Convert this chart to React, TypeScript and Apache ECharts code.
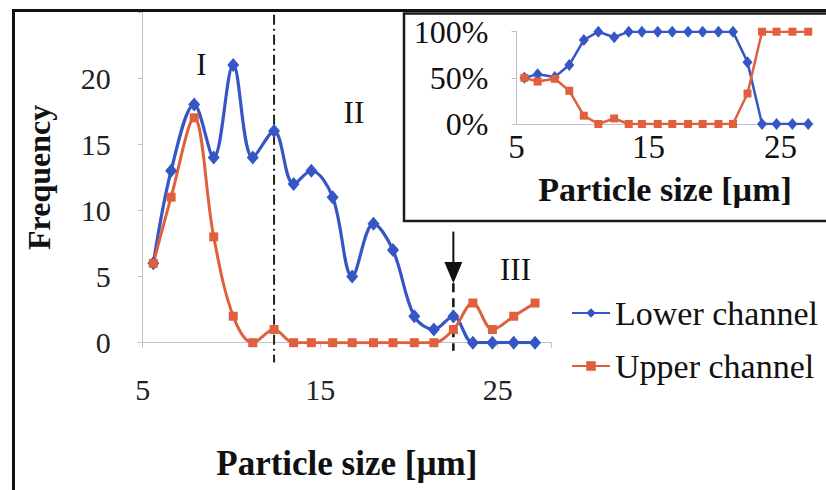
import React, { useEffect, useRef } from "react";
import * as echarts from "echarts";

const sizes = [5.6, 6.6, 7.9, 9.0, 10.1, 11.2, 12.4, 13.5, 14.5, 15.7, 16.8, 18.0, 19.1, 20.3, 21.4, 22.5, 23.6, 24.7, 25.9, 27.1];
const lowerFreq = [6, 13, 18, 14, 21, 14, 16, 12, 13, 11, 5, 9, 7, 2, 1, 2, 0, 0, 0, 0];
const upperFreq = [6, 11, 17, 8, 2, 0, 1, 0, 0, 0, 0, 0, 0, 0, 0, 1, 3, 1, 2, 3];
const lowerPct = [50, 54, 51, 64, 91, 100, 94, 100, 100, 100, 100, 100, 100, 100, 100, 67, 0, 0, 0, 0];
const upperPct = [50, 46, 49, 36, 9, 0, 6, 0, 0, 0, 0, 0, 0, 0, 0, 33, 100, 100, 100, 100];
const seriesNames = ["Lower channel", "Upper channel"];
const regionLabels = [
  { text: "I", x: 8.3, y: 21.0 },
  { text: "II", x: 16.9, y: 17.4 },
  { text: "III", x: 26.0, y: 5.5 },
];
const dashDotX = 12.4;
const arrowX = 22.5;

const FONT = "Liberation Serif";
const BLUE = "#3556c4";
const RED = "#e0603e";
const AXIS = "#b9c1d3";

const pair = (xs: number[], ys: number[]) => xs.map((x, i) => [x, ys[i]]);

export default function App() {
  const ref = useRef<HTMLDivElement>(null);
  useEffect(() => {
    if (!ref.current) return;
    const chart = echarts.init(ref.current, null, { renderer: "svg" });
    const option: any = {
      animation: false,
      backgroundColor: "#ffffff",
      textStyle: { fontFamily: FONT },
      grid: [
        { left: 142.7, top: 12, right: 275, bottom: 147.3 },
        { left: 516.5, top: 31.7, right: 12.5, bottom: 490 - 124 },
      ],
      legend: {
        orient: "vertical",
        left: 566,
        top: 291,
        itemWidth: 38,
        itemHeight: 12,
        itemGap: 19,
        data: seriesNames,
        textStyle: { fontFamily: FONT, fontSize: 34, color: "#111", lineHeight: 34 },
      },
      xAxis: [
        {
          gridIndex: 0,
          type: "value",
          min: 5,
          max: 28,
          interval: 10,
          axisLine: { lineStyle: { color: AXIS, width: 1 } },
          axisTick: { show: true, length: 5, lineStyle: { color: AXIS } },
          splitLine: { show: false },
          axisLabel: {
            margin: 32,
            fontFamily: FONT,
            fontSize: 30,
            color: "#222",
            formatter: (v: number) => ((v - 5) % 10 === 0 ? String(v) : ""),
          },
          name: "Particle size [µm]",
          nameLocation: "middle",
          nameGap: 103,
          nameTextStyle: { fontFamily: FONT, fontSize: 35, fontWeight: "bold", color: "#111" },
        },
        {
          gridIndex: 1,
          type: "value",
          min: 5,
          max: 27.5,
          interval: 10,
          axisLine: { lineStyle: { color: AXIS, width: 1 } },
          axisTick: { show: false },
          splitLine: { show: false },
          axisLabel: {
            margin: 6,
            fontFamily: FONT,
            fontSize: 33,
            color: "#111",
            formatter: (v: number) => ((v - 5) % 10 === 0 ? String(v) : ""),
          },
          name: "Particle size [µm]",
          nameLocation: "middle",
          nameGap: 48,
          nameTextStyle: { fontFamily: FONT, fontSize: 34, fontWeight: "bold", color: "#111" },
        },
      ],
      yAxis: [
        {
          gridIndex: 0,
          type: "value",
          min: 0,
          max: 25,
          interval: 5,
          axisLine: { show: true, lineStyle: { color: AXIS, width: 1 } },
          axisTick: { show: true, length: 5, lineStyle: { color: AXIS } },
          splitLine: { show: false },
          axisLabel: {
            margin: 32,
            fontFamily: FONT,
            fontSize: 30,
            color: "#222",
            formatter: (v: number) => (v <= 20 ? String(v) : ""),
          },
          name: "Frequency",
          nameLocation: "middle",
          nameGap: 88,
          nameRotate: 90,
          nameTextStyle: { fontFamily: FONT, fontSize: 32, fontWeight: "bold", color: "#111" },
        },
        {
          gridIndex: 1,
          type: "value",
          min: 0,
          max: 100,
          interval: 50,
          axisLine: { show: true, lineStyle: { color: AXIS, width: 1 } },
          axisTick: { show: true, length: 5, lineStyle: { color: AXIS } },
          splitLine: { show: false },
          axisLabel: {
            margin: 28,
            fontFamily: FONT,
            fontSize: 32,
            color: "#111",
            formatter: "{value}%",
          },
        },
      ],
      series: [
        {
          name: seriesNames[0],
          type: "line",
          xAxisIndex: 0,
          yAxisIndex: 0,
          data: pair(sizes, lowerFreq),
          smooth: 0.35,
          symbol: "diamond",
          symbolSize: [12, 14],
          itemStyle: { color: BLUE },
          lineStyle: { color: BLUE, width: 3.2 },
        },
        {
          name: seriesNames[1],
          type: "line",
          xAxisIndex: 0,
          yAxisIndex: 0,
          data: pair(sizes, upperFreq),
          smooth: 0.35,
          symbol: "rect",
          symbolSize: 9,
          itemStyle: { color: RED },
          lineStyle: { color: RED, width: 3 },
        },
        {
          name: seriesNames[0],
          type: "line",
          xAxisIndex: 1,
          yAxisIndex: 1,
          data: pair(sizes, lowerPct),
          symbol: "diamond",
          symbolSize: [10, 12],
          itemStyle: { color: BLUE },
          lineStyle: { color: BLUE, width: 2.5 },
        },
        {
          name: seriesNames[1],
          type: "line",
          xAxisIndex: 1,
          yAxisIndex: 1,
          data: pair(sizes, upperPct),
          symbol: "rect",
          symbolSize: 8,
          itemStyle: { color: RED },
          lineStyle: { color: RED, width: 2.5 },
        },
      ],
    };
    chart.setOption(option);

    const p = (x: number, y: number) => chart.convertToPixel({ gridIndex: 0 }, [x, y]) as number[];
    const [dx, dTop] = p(dashDotX, 24.8);
    const [, dBot] = p(dashDotX, -1.5);
    const [ax, aTop] = p(arrowX, 8.4);
    const [, aHead] = p(arrowX, 6.1);
    const [, aTip] = p(arrowX, 4.5);
    const [, aBot] = p(arrowX, -0.6);

    const graphic: any[] = [
      {
        type: "rect",
        shape: { x: 13.5, y: 10.5, width: 1000, height: 1000 },
        style: { fill: "none", stroke: "#111", lineWidth: 3 },
        silent: true,
        z: 100,
      },
      {
        type: "rect",
        shape: { x: 404, y: 13.5, width: 600, height: 207.5 },
        style: { fill: "none", stroke: "#1a1a1a", lineWidth: 2.5 },
        silent: true,
        z: 100,
      },
      {
        type: "line",
        shape: { x1: dx, y1: dTop, x2: dx, y2: dBot },
        style: { stroke: "#222", lineWidth: 2, lineDash: [10, 4, 2, 4] },
        z: 1,
      },
      {
        type: "line",
        shape: { x1: ax, y1: aTop, x2: ax, y2: aHead },
        style: { stroke: "#111", lineWidth: 2 },
        z: 10,
      },
      {
        type: "polygon",
        shape: { points: [[ax - 9, aHead], [ax + 9, aHead], [ax, aTip]] },
        style: { fill: "#111" },
        z: 10,
      },
      {
        type: "line",
        shape: { x1: ax, y1: aTip, x2: ax, y2: aBot },
        style: { stroke: "#111", lineWidth: 2.5, lineDash: [9, 6] },
        z: 1,
      },
      ...regionLabels.map((r) => {
        const [x, y] = p(r.x, r.y);
        return {
          type: "text",
          x,
          y,
          style: {
            text: r.text,
            fontFamily: FONT,
            fontSize: 31,
            fill: "#111",
            align: "center",
            verticalAlign: "middle",
          },
          z: 10,
        };
      }),
    ];
    chart.setOption({ graphic });
    return () => chart.dispose();
  }, []);
  return (
    <div
      ref={ref}
      style={{ position: "fixed", left: 0, top: 0, width: 826, height: 490, background: "#fff" }}
    />
  );
}
